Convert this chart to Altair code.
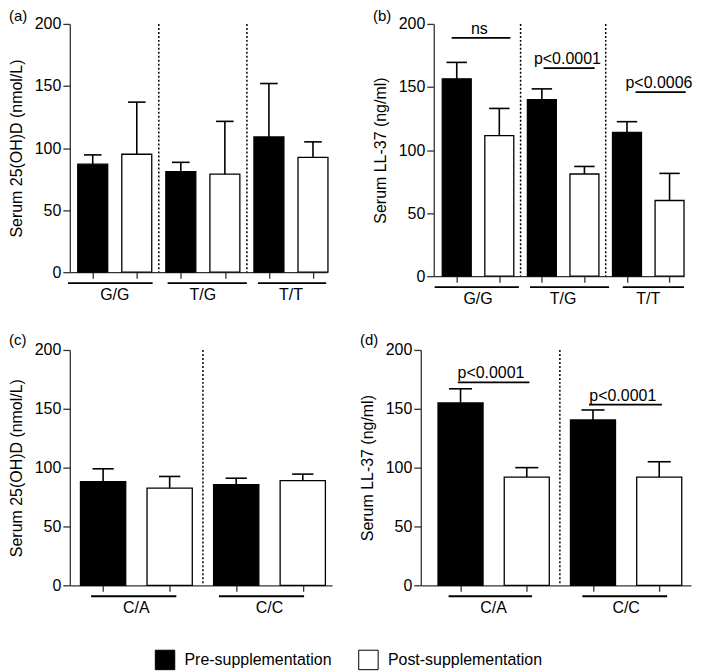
import altair as alt
import pandas as pd

FONT = "Liberation Sans"
PHASES = ["Pre-supplementation", "Post-supplementation"]

# ---------------- data ----------------
# Panel (a): Serum 25(OH)D by genotype
a_groups = ["G/G", "T/G", "T/T"]
a_pre = [87, 81, 109]
a_pre_err = [7.5, 7.5, 43]
a_post = [95, 79, 92.5]
a_post_err = [42, 42.5, 12.5]

# Panel (b): Serum LL-37 by genotype
b_groups = ["G/G", "T/G", "T/T"]
b_pre = [156.5, 140, 114]
b_pre_err = [13, 8.5, 8.5]
b_post = [111.5, 81, 60]
b_post_err = [21.5, 6, 21.5]
b_sig = ["ns", "p<0.0001", "p<0.0006"]
b_sig_y = [189, 165, 146]

# Panel (c): Serum 25(OH)D by genotype
c_groups = ["C/A", "C/C"]
c_pre = [88, 85.5]
c_pre_err = [11, 5.5]
c_post = [82.5, 89]
c_post_err = [10, 5.5]

# Panel (d): Serum LL-37 by genotype
d_groups = ["C/A", "C/C"]
d_pre = [155, 140.5]
d_pre_err = [12, 8.5]
d_post = [92, 92]
d_post_err = [8, 13]
d_sig = ["p<0.0001", "p<0.0001"]
d_sig_y = [172.5, 153.5]

y_ticks = [0, 50, 100, 150, 200]

# ---------------- layout (styling only) ----------------
LAY = {
    "a": dict(w=258, h=249, xdom=[-0.51, 2.41], cap=0.10, ly=-8,
              ul=[(-0.53, 0.43), (-0.40, 0.50), (-0.375, 0.40)]),
    "b": dict(w=251, h=253, xdom=[-0.52, 2.42], cap=0.12, ly=-8,
              ul=[(-0.51, 0.48), (-0.39, 0.54), (-0.30, 0.42)],
              sl=[(-0.31, 0.38), (-0.23, 0.37), (-0.15, 0.44)]),
    "c": dict(w=263, h=236, xdom=[-0.50, 1.47], cap=0.08, ly=-10,
              ul=[(-0.34, 0.30), (-0.38, 0.26)]),
    "d": dict(w=271, h=236, xdom=[-0.55, 1.49], cap=0.087, ly=-10,
              ul=[(-0.34, 0.29), (-0.33, 0.31)],
              sl=[(-0.27, 0.27), (-0.28, 0.27)]),
}
BAR_W = 0.34
OFF = 0.25


def panel(key, label, ytitle, groups, pre, pre_err, post, post_err, sig=None, sig_y=None):
    lay = LAY[key]
    w, h = lay["w"], lay["h"]
    rows = []
    centers = []
    for i, g in enumerate(groups):
        for j, (m, e) in enumerate([(pre[i], pre_err[i]), (post[i], post_err[i])]):
            c = i - OFF if j == 0 else i + OFF
            centers.append(c)
            rows.append(dict(group=g, phase=PHASES[j], mean=m, top=m + e, base=0, xc=c,
                             x0=c - BAR_W / 2, x1=c + BAR_W / 2,
                             c0=c - lay["cap"], c1=c + lay["cap"]))
    df = pd.DataFrame(rows)

    xs = alt.Scale(domain=lay["xdom"], nice=False, zero=False)
    ys = alt.Scale(domain=[0, 200], nice=False, zero=True)
    xaxis = alt.Axis(values=centers, labels=False, title=None, grid=False, tickSize=6,
                     domainColor="#333", tickColor="#333", domainWidth=1.3, tickWidth=1.3)
    yaxis = alt.Axis(values=y_ticks, title=ytitle, grid=False, tickSize=7, labelPadding=2,
                     labelFontSize=16, titleFontSize=16, titleFontWeight="normal",
                     titleColor="black", labelColor="black", titlePadding=10,
                     domainColor="#333", tickColor="#333", domainWidth=1.3, tickWidth=1.3,
                     labelFont=FONT, titleFont=FONT)

    def X(f):
        return alt.X(f, type="quantitative", scale=xs, axis=xaxis)

    def Y(f):
        return alt.Y(f, type="quantitative", scale=ys, axis=yaxis)

    base = alt.Chart(df)
    bars = base.mark_bar(stroke="black", strokeWidth=1.3).encode(
        x=X("x0"), x2="x1", y=Y("base"), y2="mean",
        fill=alt.Fill("phase:N", scale=alt.Scale(domain=PHASES, range=["#000000", "#ffffff"]),
                      legend=alt.Legend(orient="none", legendX=85, legendY=627,
                                        direction="horizontal", title=None,
                                        symbolType="square", symbolSize=380,
                                        symbolStrokeColor="black", symbolStrokeWidth=1,
                                        labelFontSize=16, labelFont=FONT, labelColor="black",
                                        columnPadding=24, labelOffset=9)),
    )
    err = base.mark_rule(color="black", strokeWidth=1.6).encode(x=X("xc"), y=Y("mean"), y2="top")
    cap = base.mark_rule(color="black", strokeWidth=1.6).encode(x=X("c0"), x2="c1", y=Y("top"))

    n = len(groups)
    sep_df = pd.DataFrame({"xs": [i + 0.5 for i in range(n - 1)]})
    sep = alt.Chart(sep_df).mark_rule(color="black", strokeWidth=1.5, strokeDash=[2, 2]).encode(
        x=X("xs"), y=alt.value(0), y2=alt.value(h))

    ul_df = pd.DataFrame({"group": groups,
                          "u0": [i + lay["ul"][i][0] for i in range(n)],
                          "u1": [i + lay["ul"][i][1] for i in range(n)],
                          "gc": [float(i) for i in range(n)]})
    ul = alt.Chart(ul_df).mark_rule(color="black", strokeWidth=1.8).encode(
        x=X("u0"), x2="u1", y=alt.value(h + 11))
    gl = alt.Chart(ul_df).mark_text(fontSize=16, font=FONT, color="black", baseline="middle").encode(
        x=X("gc"), y=alt.value(h + 23), text="group:N")

    lab = alt.Chart(pd.DataFrame({"t": [label]})).mark_text(
        fontSize=15, font=FONT, color="black", align="left", baseline="middle").encode(
        text="t:N", x=alt.value(-61), y=alt.value(lay["ly"]))

    layers = [bars, err, cap, sep, ul, gl, lab]
    if sig is not None:
        s_df = pd.DataFrame({"lab": sig, "yv": sig_y,
                             "s0": [i + lay["sl"][i][0] for i in range(n)],
                             "s1": [i + lay["sl"][i][1] for i in range(n)],
                             "sm": [i + (lay["sl"][i][0] + lay["sl"][i][1]) / 2 - 0.02 for i in range(n)]})
        sl = alt.Chart(s_df).mark_rule(color="black", strokeWidth=1.8).encode(
            x=X("s0"), x2="s1", y=Y("yv"))
        st = alt.Chart(s_df).mark_text(fontSize=16, font=FONT, color="black",
                                       baseline="alphabetic", dy=-4).encode(
            x=X("sm"), y=Y("yv"), text="lab:N")
        layers += [sl, st]

    return alt.layer(*layers).properties(width=w, height=h)


pa = panel("a", "(a)", "Serum 25(OH)D (nmol/L)", a_groups, a_pre, a_pre_err, a_post, a_post_err)
pb = panel("b", "(b)", "Serum LL-37 (ng/ml)", b_groups, b_pre, b_pre_err, b_post, b_post_err, b_sig, b_sig_y)
pc = panel("c", "(c)", "Serum 25(OH)D (nmol/L)", c_groups, c_pre, c_pre_err, c_post, c_post_err)
pd_ = panel("d", "(d)", "Serum LL-37 (ng/ml)", d_groups, d_pre, d_pre_err, d_post, d_post_err, d_sig, d_sig_y)

chart = alt.vconcat(
    alt.hconcat(pa, pb, spacing=43),
    alt.hconcat(pc, pd_, spacing=27),
    spacing=26,
).properties(
    padding={"left": 0, "top": 0, "right": 0, "bottom": 0},
).configure(font=FONT).configure_view(stroke=None)

chart.save("out.html", embed_options={"renderer": "svg", "actions": False})
